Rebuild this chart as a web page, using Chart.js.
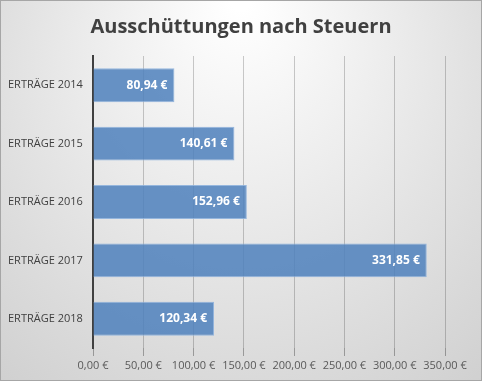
<!DOCTYPE html>
<html><head><meta charset="utf-8">
<script src="https://cdn.jsdelivr.net/npm/chart.js@4"></script>
<style>html,body{margin:0;padding:0;background:#fff}#wrap{width:482px;height:381px;position:relative}</style>
</head><body><div id="wrap"><canvas id="c" width="482" height="381"></canvas></div>
<script>
const categories = ['ERTRÄGE 2014','ERTRÄGE 2015','ERTRÄGE 2016','ERTRÄGE 2017','ERTRÄGE 2018'];
const values = [80.94, 140.61, 152.96, 331.85, 120.34];
const tickValues = [0, 50, 100, 150, 200, 250, 300, 350];
const titleText = 'Ausschüttungen nach Steuern';
const fmt = v => v.toFixed(2).replace('.', ',') + ' €';

const bgPlugin = {
  id: 'bg',
  beforeDraw(chart) {
    const {ctx, width, height} = chart;
    ctx.save();
    const g = ctx.createRadialGradient(width/2, 0, 10, width/2, height*0.3, width*0.75);
    g.addColorStop(0, '#ffffff');
    g.addColorStop(1, '#d0d0d0');
    ctx.fillStyle = g;
    ctx.fillRect(0, 0, width, height);
    ctx.strokeStyle = '#a6a6a6';
    ctx.lineWidth = 1;
    ctx.strokeRect(0.5, 0.5, width-1, height-1);
    ctx.fillStyle = '#404040';
    ctx.font = 'bold 20px "Open Sans", sans-serif';
    ctx.textAlign = 'center';
    ctx.textBaseline = 'middle';
    ctx.fillText(titleText, width/2, 27);
    ctx.restore();
  }
};
const labelPlugin = {
  id: 'lbl',
  afterDatasetsDraw(chart) {
    const {ctx} = chart;
    const meta = chart.getDatasetMeta(0);
    ctx.save();
    ctx.fillStyle = '#ffffff';
    ctx.font = 'bold 12px "Open Sans", sans-serif';
    ctx.textAlign = 'right';
    ctx.textBaseline = 'middle';
    meta.data.forEach((bar, i) => {
      ctx.fillText(fmt(values[i]), bar.x - 7, bar.y);
    });
    ctx.restore();
  }
};

new Chart(document.getElementById('c'), {
  type: 'bar',
  data: {
    labels: categories,
    datasets: [{
      data: values,
      backgroundColor: 'rgba(79,129,189,0.86)',
      borderColor: 'rgba(140,176,220,0.9)',
      borderWidth: 1,
      borderSkipped: 'left',
      barPercentage: 0.58,
      categoryPercentage: 1.0
    }]
  },
  options: {
    indexAxis: 'y',
    responsive: false,
    animation: false,
    devicePixelRatio: 1,
    layout: {padding: {left: 8, right: 37, top: 56, bottom: 0}},
    plugins: {
      legend: {display: false},
      tooltip: {enabled: false},
      title: {display: false}
    },
    scales: {
      x: {
        min: 0, max: 350,
        afterBuildTicks(scale) { scale.ticks = tickValues.map(v => ({value: v})); },
        afterFit(scale) { scale.height = 33; },
        grid: {color: 'rgba(0,0,0,0.2)', lineWidth: 1, drawTicks: true, tickLength: 8, tickColor: 'rgba(0,0,0,0.3)'},
        border: {display: false},
        ticks: {
          color: '#595959',
          font: {family: '"Open Sans", sans-serif', size: 11},
          padding: 3,
          maxRotation: 0,
          autoSkip: false,
          callback: v => fmt(v)
        }
      },
      y: {
        grid: {display: false},
        border: {display: true, color: '#404040', width: 2},
        afterFit(scale) { scale.width = 85; },
        ticks: {
          color: '#404040',
          crossAlign: 'far',
          font: {family: '"Open Sans", sans-serif', size: 11},
          padding: 8
        }
      }
    }
  },
  plugins: [bgPlugin, labelPlugin]
});
</script></body></html>
